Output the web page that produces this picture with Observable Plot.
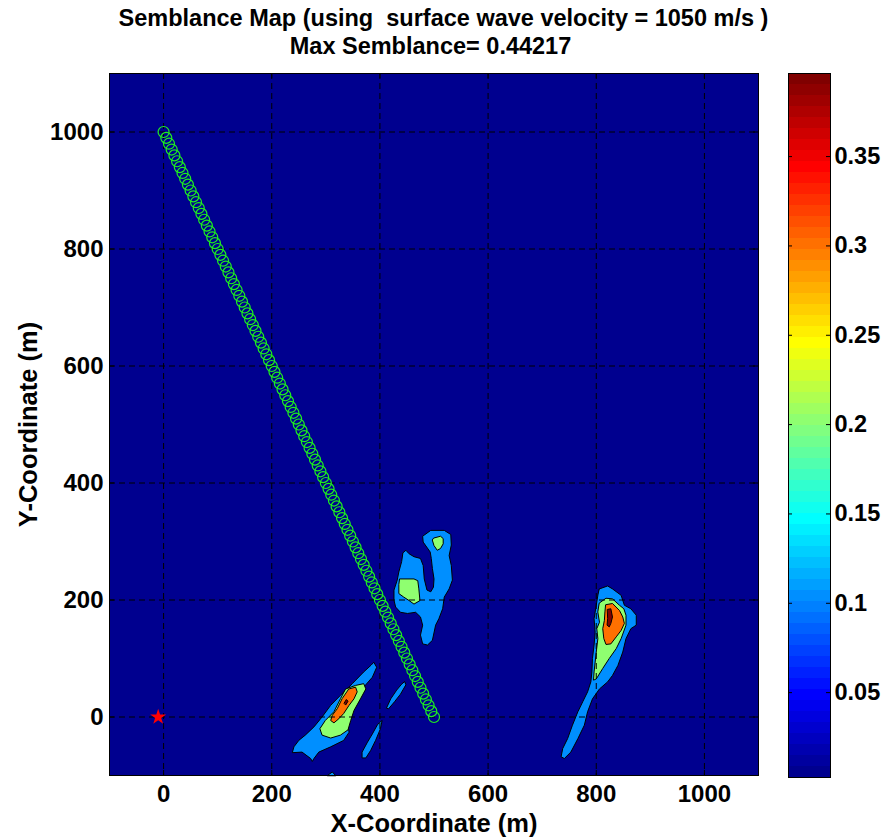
<!DOCTYPE html>
<html>
<head>
<meta charset="utf-8">
<script src="https://cdn.jsdelivr.net/npm/d3@7"></script>
<script src="https://cdn.jsdelivr.net/npm/@observablehq/plot@0.6"></script>
<style>
  body { margin: 0; background: white; }
  #wrap { position: relative; width: 885px; height: 840px; background: white;
          font-family: 'Liberation Sans', Arial, sans-serif; font-weight: bold; }
  .tline { position: absolute; left: 0; width: 885px; text-align: center;
           font-size: 23.5px; line-height: 28px; white-space: pre; color: black; }
  #t1 { top: 4px; left: 1px; }
  #t2 { top: 32px; left: -12px; }
  #main { position: absolute; left: 0; top: 60px; }
  #cbar { position: absolute; left: 770px; top: 60px; }
</style>
</head>
<body>
<div id="wrap">
  <div class="tline" id="t1">Semblance Map (using  surface wave velocity = 1050 m/s )</div>
  <div class="tline" id="t2">Max Semblance= 0.44217</div>
  <div id="main"></div>
  <div id="cbar"></div>
</div>
<script>
// ---------------- data ----------------
const xTicks = [0, 200, 400, 600, 800, 1000];
const yTicks = [0, 200, 400, 600, 800, 1000];
const colorbarTicks = [0.05, 0.1, 0.15, 0.2, 0.25, 0.3, 0.35];
const colorLimits = [0.0025, 0.3965];
// contour levels (lowest = background)
const contourLevels = [0.0025, 0.101, 0.1995, 0.298, 0.3965];

// receiver positions (green circles)
const receiverX = [0,5,10,15,20,25,30,35,40,45,50,55,60,65,70,75,80,85,90,95,100,105,110,115,120,125,130,135,140,145,150,155,160,165,170,175,180,185,190,195,200,205,210,215,220,225,230,235,240,245,250,255,260,265,270,275,280,285,290,295,300,305,310,315,320,325,330,335,340,345,350,355,360,365,370,375,380,385,390,395,400,405,410,415,420,425,430,435,440,445,450,455,460,465,470,475,480,485,490,495,500];
const receiverY = [1000,990,980,970,960,950,940,930,920,910,900,890,880,870,860,850,840,830,820,810,800,790,780,770,760,750,740,730,720,710,700,690,680,670,660,650,640,630,620,610,600,590,580,570,560,550,540,530,520,510,500,490,480,470,460,450,440,430,420,410,400,390,380,370,360,350,340,330,320,310,300,290,280,270,260,250,240,230,220,210,200,190,180,170,160,150,140,130,120,110,100,90,80,70,60,50,40,30,20,10,0];

// source (red star)
const sourceX = [-10];
const sourceY = [0];

// contour regions [x, y] in metres
const centerLevel1 = [[443,281],[448,285],[454,279],[463,274],[475,271],[480,259],[482,236],[487,217],[494,214],[499,222],[500,236],[497,254],[495,271],[493,282],[480,299],[479,309],[494,319],[519,319],[531,312],[532,294],[528,276],[532,259],[534,234],[528,219],[519,205],[516,185],[509,168],[503,157],[497,131],[488,123],[479,125],[475,140],[479,157],[475,171],[466,179],[451,177],[438,179],[429,188],[426,200],[426,217],[432,234],[435,248],[440,265]];
const centerLevel2a = [[437,236],[463,236],[470,233],[472,219],[474,199],[463,193],[454,199],[444,205],[435,211],[435,226]];
const centerLevel2b = [[500,306],[512,309],[517,305],[517,296],[512,288],[506,285],[500,293],[497,302]];

const leftLevel1 = [[389,93],[394,85],[386,68],[370,51],[358,31],[346,11],[340,-9],[343,-26],[333,-40],[309,-51],[287,-60],[278,-71],[275,-76],[272,-71],[256,-60],[238,-61],[241,-51],[250,-40],[262,-31],[278,-17],[293,0],[309,20],[327,37],[349,57],[370,77],[383,88]];
const leftLevel2 = [[337,48],[355,54],[370,57],[374,48],[364,31],[352,11],[346,-6],[341,-22],[327,-31],[309,-36],[293,-31],[289,-20],[299,-6],[315,9],[327,31]];
const leftLevel3 = [[343,48],[355,51],[358,43],[352,31],[343,20],[333,6],[324,-3],[315,-10],[309,-6],[312,3],[321,14],[330,31]];
const leftLevel4 = [[334,24],[338,30],[341,27],[337,21]];

const streakA = [[400,-9],[404,-6],[401,-20],[392,-40],[383,-57],[374,-70],[367,-70],[367,-60],[377,-43],[386,-29],[395,-14]];
const streakB = [[446,60],[448,55],[438,39],[427,26],[416,14],[412,15],[420,31],[431,46],[440,56]];
const streakC = [[303,-100],[312,-94],[318,-100]];

const rightLevel1 = [[806,219],[821,224],[830,219],[846,208],[852,191],[864,185],[874,174],[874,157],[864,151],[855,134],[849,111],[840,88],[830,71],[821,60],[806,48],[793,31],[784,9],[778,-14],[766,-37],[753,-60],[741,-71],[735,-68],[738,-54],[747,-37],[756,-14],[766,9],[775,26],[784,43],[790,60],[792,77],[793,100],[796,123],[798,145],[796,168],[800,191],[803,208]];
const rightLevel2 = [[806,195],[818,203],[830,202],[843,191],[851,185],[855,174],[855,157],[846,134],[837,117],[824,100],[812,83],[800,65],[795,63],[796,77],[798,94],[800,111],[803,134],[801,151],[806,162],[803,179]];
const rightLevel3 = [[818,192],[830,194],[843,182],[849,171],[852,160],[846,148],[837,137],[827,125],[818,124],[814,134],[812,151],[815,165],[816,179]];
const rightLevel4 = [[821,184],[827,185],[830,171],[827,160],[824,154],[820,157],[821,168]];

// polygons with their level index, in drawing order
const contourPolygons = [
  [centerLevel1, 1], [leftLevel1, 1], [streakA, 1], [streakB, 1], [streakC, 1], [rightLevel1, 1],
  [centerLevel2a, 2], [centerLevel2b, 2], [leftLevel2, 2], [rightLevel2, 2],
  [leftLevel3, 3], [rightLevel3, 3],
  [leftLevel4, 4], [rightLevel4, 4]
];

// ---------------- MATLAB jet(64) ----------------
function jetRow(i) {
  const u = k => (k < 1 || k > 47) ? 0 : (k <= 16 ? k / 16 : (k <= 31 ? 1 : (48 - k) / 16));
  const I = i + 1;
  return [u(I - 24), u(I - 8), u(I + 8)];
}
function jet(t) {
  const i = Math.max(0, Math.min(63, Math.floor(t * 64 + 1e-9)));
  const [r, g, b] = jetRow(i);
  return `rgb(${Math.round(r * 255)},${Math.round(g * 255)},${Math.round(b * 255)})`;
}

// ---------------- tables ----------------
const contourRows = [];
contourPolygons.forEach(([pts, lev], id) => {
  pts.forEach(([x, y]) => contourRows.push({id, level: contourLevels[lev], x, y}));
});
const receivers = receiverX.map((x, i) => ({x, y: receiverY[i]}));
const sources = sourceX.map((x, i) => ({x, y: sourceY[i]}));

const font = "'Liberation Sans', Arial, sans-serif";
const W = 770, H = 780, ML = 109, MR = 12, MT = 13, MB = 65;
const PW = W - ML - MR, PH = H - MT - MB;

const main = Plot.plot({
  width: W, height: H,
  marginLeft: ML, marginRight: MR, marginTop: MT, marginBottom: MB,
  style: {fontFamily: font, fontSize: "24px", fontWeight: "bold", background: "white", overflow: "visible", color: "black"},
  x: {domain: [-100, 1100], ticks: xTicks, tickFormat: d => String(d), tickSize: 0, tickPadding: 9, label: null},
  y: {domain: [-100, 1100], ticks: yTicks, tickFormat: d => String(d), tickSize: 0, tickPadding: 6, label: null},
  color: {type: "linear", domain: colorLimits, interpolate: jet},
  marks: [
    Plot.frame({fill: jet(0)}),
    Plot.line(contourRows, {x: "x", y: "y", z: "id", fill: "level", stroke: "black", strokeWidth: 1, curve: "linear-closed"}),
    Plot.ruleX(xTicks, {x: d => d, stroke: "black", strokeWidth: 1, strokeDasharray: "6,4"}),
    Plot.ruleY(yTicks, {y: d => d, stroke: "black", strokeWidth: 1, strokeDasharray: "6,4"}),
    Plot.dot(receivers, {x: "x", y: "y", r: 5.5, stroke: "#1ef01e", fill: "none", strokeWidth: 1.2}),
    Plot.dot(sources, {x: "x", y: "y", symbol: "star", r: 5, fill: "red", stroke: "none"}),
    Plot.tickX(xTicks, {x: d => d, insetTop: PH - 5, stroke: "black"}),
    Plot.tickX(xTicks, {x: d => d, insetBottom: PH - 5, stroke: "black"}),
    Plot.tickY(yTicks, {y: d => d, insetRight: PW - 5, stroke: "black"}),
    Plot.tickY(yTicks, {y: d => d, insetLeft: PW - 5, stroke: "black"}),
    Plot.frame({stroke: "black", strokeWidth: 1}),
    Plot.text(["X-Coordinate (m)"], {text: d => d, frameAnchor: "bottom", textAnchor: "middle", lineAnchor: "middle", dy: 48, fontSize: 25.5, fill: "black"}),
    Plot.text(["Y-Coordinate (m)"], {text: d => d, frameAnchor: "left", textAnchor: "middle", lineAnchor: "middle", dx: -81, rotate: -90, fontSize: 25.5, fill: "black"})
  ]
});
document.getElementById("main").appendChild(main);

// ---------------- colorbar ----------------
const nBands = 64;
const step = (colorLimits[1] - colorLimits[0]) / nBands;
const bands = d3.range(nBands).map(i => ({
  lo: colorLimits[0] + i * step,
  hi: colorLimits[0] + (i + 1) * step,
  v: colorLimits[0] + (i + 0.5) * step
}));
const CW = 115, CML = 18, CMR = 55, CMT = 13, CMB = 63;
const CBW = CW - CML - CMR;
const cbar = Plot.plot({
  width: CW, height: H,
  marginLeft: CML, marginRight: CMR, marginTop: CMT, marginBottom: CMB,
  style: {fontFamily: font, fontSize: "23.5px", fontWeight: "bold", background: "white", overflow: "visible", color: "black"},
  y: {domain: colorLimits, axis: "right", ticks: colorbarTicks, tickFormat: d => String(d), tickSize: 0, tickPadding: 4, label: null},
  color: {type: "linear", domain: colorLimits, interpolate: jet},
  marks: [
    Plot.rect(bands, {y1: "lo", y2: "hi", fill: "v"}),
    Plot.tickY(colorbarTicks, {y: d => d, insetRight: CBW - 4, stroke: "black"}),
    Plot.tickY(colorbarTicks, {y: d => d, insetLeft: CBW - 4, stroke: "black"}),
    Plot.frame({stroke: "black", strokeWidth: 1})
  ]
});
document.getElementById("cbar").appendChild(cbar);
</script>
</body>
</html>
